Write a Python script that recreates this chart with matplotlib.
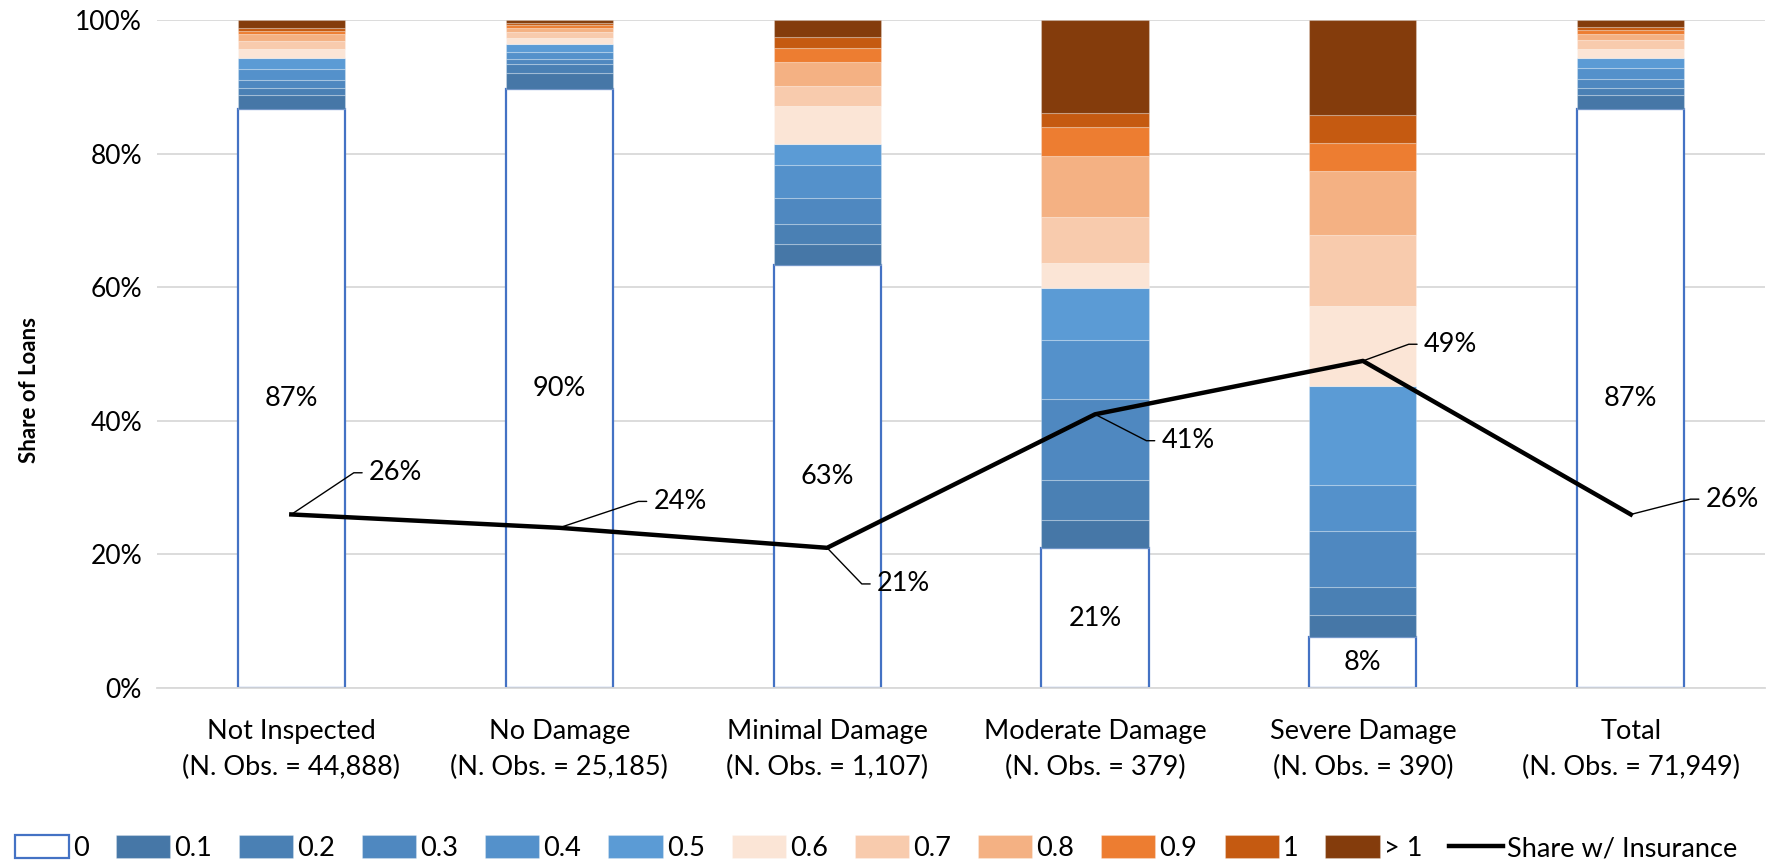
import math
import matplotlib
matplotlib.use("Agg")
import matplotlib.pyplot as plt
import numpy as np

plt.rcParams['font.family'] = ['Lato', 'DejaVu Sans']

# Data
categories = ["Not Inspected", "No Damage", "Minimal Damage", "Moderate Damage", "Severe Damage", "Total"]
n_obs = ["44,888", "25,185", "1,107", "379", "390", "71,949"]
bins = ["0", "0.1", "0.2", "0.3", "0.4", "0.5", "0.6", "0.7", "0.8", "0.9", "1", "> 1"]

share_0 = [86.8, 89.8, 63.4, 20.9, 7.7, 86.7]
share_01 = [2.1, 2.4, 3.1, 4.3, 3.2, 2.15]
share_02 = [1.0, 1.35, 3.0, 6.0, 4.3, 1.0]
share_03 = [1.2, 0.65, 3.9, 12.1, 8.3, 1.35]
share_04 = [1.7, 1.1, 5.0, 8.9, 6.9, 1.75]
share_05 = [1.6, 1.15, 3.15, 7.7, 14.8, 1.5]
share_06 = [1.35, 0.95, 5.7, 3.8, 12.1, 1.3]
share_07 = [1.25, 0.9, 3.0, 6.9, 10.6, 1.35]
share_08 = [0.9, 0.6, 3.5, 9.1, 9.5, 0.9]
share_09 = [0.5, 0.4, 2.1, 4.4, 4.2, 0.5]
share_10 = [0.5, 0.35, 1.7, 2.0, 4.2, 0.5]
share_gt1 = [1.1, 0.35, 2.45, 13.9, 14.2, 1.0]

insurance = [26, 24, 21, 41, 49, 26]

shares = [share_0, share_01, share_02, share_03, share_04, share_05,
          share_06, share_07, share_08, share_09, share_10, share_gt1]

colors = ["white", "#4677a7", "#4a80b4", "#4f88c0", "#5491cb", "#5b9bd5",
          "#fbe5d6", "#f8cbad", "#f4b183", "#ed7d31", "#c55a11", "#843c0c"]

# label offsets (points) for the insurance labels
label_dx = [56, 68, 36, 48, 44, 54]
label_dy = [30, 19, -26, -19, 12, 11]

x = np.arange(len(categories))
bar_width = 0.4
fs = 19.5

fig = plt.figure(figsize=(17.88, 8.64), dpi=100)
ax = fig.add_axes([0.088, 0.2037, 0.899, 0.7726])

handles = []
bottom = np.zeros(len(categories))
for i, (vals, col) in enumerate(zip(shares, colors)):
    vals = np.array(vals)
    if i == 0:
        b = ax.bar(x, vals, width=bar_width, bottom=bottom, color=col,
                   edgecolor="#4472c4", linewidth=1.6, label=bins[i], zorder=2)
    else:
        b = ax.bar(x, vals, width=bar_width, bottom=bottom, color=col,
                   edgecolor=(1, 1, 1, 0.25), linewidth=0.8, label=bins[i], zorder=2)
    handles.append(b)
    bottom += vals

# labels in the white bars
for xi, v in zip(x, share_0):
    ax.text(xi, v / 2, f"{v:.0f}%", ha="center", va="center", fontsize=fs, zorder=4)

line, = ax.plot(x, insurance, color="black", linewidth=3.2, label="Share w/ Insurance", zorder=3)
handles.append(line)

stub = 11
for xi, yi, dx, dy in zip(x, insurance, label_dx, label_dy):
    ang = math.degrees(math.atan2(dy, dx - stub))
    ax.annotate(f"{yi}%", xy=(xi, yi), xytext=(dx, dy), textcoords="offset points",
                ha="left", va="center", fontsize=fs, zorder=5,
                arrowprops=dict(arrowstyle="-", color="black", lw=1.0,
                                shrinkA=3, shrinkB=0, relpos=(0, 0.5),
                                connectionstyle=f"angle,angleA=0,angleB={ang},rad=0"))

ax.set_xlim(-0.5, len(categories) - 0.5)
ax.set_ylim(0, 100)
ax.set_yticks(np.arange(0, 101, 20))
ax.set_yticklabels([f"{t}%" for t in range(0, 101, 20)], fontsize=19)
ax.set_xticks(x)
ax.set_xticklabels([f"{c}\n(N. Obs. = {n})" for c, n in zip(categories, n_obs)],
                   fontsize=fs, linespacing=1.55)
ax.tick_params(axis="both", length=0)
ax.tick_params(axis="x", pad=22)
ax.tick_params(axis="y", pad=11)
ax.set_ylabel("Share of Loans", fontsize=16, fontweight="bold")
ax.yaxis.set_label_coords(-0.073, 0.447)

ax.grid(axis="y", color="#d9d9d9", linewidth=1.3, zorder=0)
ax.set_axisbelow(True)
for s in ["top", "right", "left"]:
    ax.spines[s].set_visible(False)
ax.spines["bottom"].set_color("#d9d9d9")
ax.spines["bottom"].set_linewidth(1.3)

fig.legend(handles=handles, labels=bins + ["Share w/ Insurance"], loc="center",
           bbox_to_anchor=(0.49, 0.0185), ncol=13, frameon=False, fontsize=fs,
           handlelength=2.0, handleheight=0.95, handletextpad=0.15, columnspacing=1.0)

fig.savefig("out.png", dpi=100)
